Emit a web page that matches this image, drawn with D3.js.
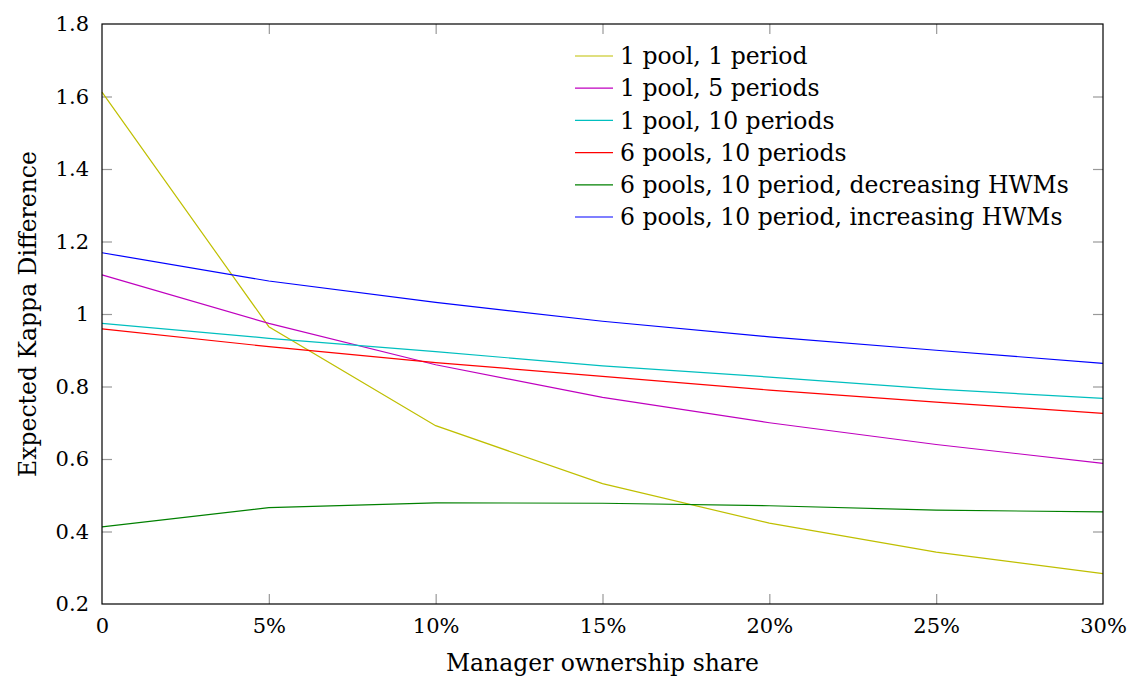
<!DOCTYPE html>
<html>
<head>
<meta charset="utf-8">
<script src="https://cdn.jsdelivr.net/npm/d3@7"></script>
<style>
  body { margin: 0; background: white; }
  svg text { font-family: "DejaVu Serif", "Liberation Serif", serif; }
</style>
</head>
<body>
<div id="vis"></div>
<script>
const WIDTH = 1129, HEIGHT = 679;
const margins = { top: 24, bottom: 75, left: 102, right: 26 };
const FONT_TICK = "21px", FONT = "23.5px";

// datos
const shares = [0, 5, 10, 15, 20, 25, 30];
const seriesNames = [
  "1 pool, 1 period",
  "1 pool, 5 periods",
  "1 pool, 10 periods",
  "6 pools, 10 periods",
  "6 pools, 10 period, decreasing HWMs",
  "6 pools, 10 period, increasing HWMs"
];
const seriesColors = ["#bfbf00", "#bf00bf", "#00bfbf", "#ff0000", "#008000", "#0000ff"];
const onePoolOnePeriod = [1.612, 0.965, 0.692, 0.532, 0.423, 0.343, 0.284];
const onePoolFivePeriods = [1.108, 0.974, 0.860, 0.770, 0.700, 0.640, 0.588];
const onePoolTenPeriods = [0.974, 0.933, 0.896, 0.857, 0.826, 0.793, 0.767];
const sixPoolsTenPeriods = [0.959, 0.910, 0.866, 0.828, 0.790, 0.757, 0.726];
const decreasingHWMs = [0.413, 0.466, 0.479, 0.478, 0.471, 0.459, 0.454];
const increasingHWMs = [1.169, 1.091, 1.032, 0.980, 0.937, 0.900, 0.864];
const yTicks = [0.2, 0.4, 0.6, 0.8, 1, 1.2, 1.4, 1.6, 1.8];

const allSeries = [onePoolOnePeriod, onePoolFivePeriods, onePoolTenPeriods,
  sixPoolsTenPeriods, decreasingHWMs, increasingHWMs];

const SVG = d3.select("#vis").append("svg")
  .attr("width", WIDTH).attr("height", HEIGHT);

const innerW = WIDTH - margins.left - margins.right;
const innerH = HEIGHT - margins.top - margins.bottom;

const x = d3.scaleLinear().domain([0, 30]).range([0, innerW]);
const y = d3.scaleLinear().domain([0.2, 1.8]).range([innerH, 0]);

const g = SVG.append("g").attr("transform", `translate(${margins.left} ${margins.top})`);

// ejes con ticks hacia adentro
const fmtX = d => d === 0 ? "0" : d + "%";
const fmtY = d => d3.format("")(+d.toFixed(1));

const ejeX = g.append("g").attr("transform", `translate(0 ${innerH})`)
  .call(d3.axisBottom(x).tickValues(shares).tickFormat(fmtX).tickSizeInner(-10).tickSizeOuter(0).tickPadding(22));
const ejeXtop = g.append("g")
  .call(d3.axisTop(x).tickValues(shares).tickFormat("").tickSizeInner(-10).tickSizeOuter(0));
const ejeY = g.append("g")
  .call(d3.axisLeft(y).tickValues(yTicks).tickFormat(fmtY).tickSizeInner(-10).tickSizeOuter(0).tickPadding(13));
const ejeYright = g.append("g").attr("transform", `translate(${innerW} 0)`)
  .call(d3.axisRight(y).tickValues(yTicks).tickFormat("").tickSizeInner(-10).tickSizeOuter(0));

[ejeX, ejeXtop, ejeY, ejeYright].forEach(e => {
  e.attr("font-family", null);
  e.select(".domain").remove();
  e.selectAll(".tick line").attr("stroke", "#999").attr("stroke-width", 1.2);
  e.selectAll(".tick text").attr("fill", "#000").style("font-size", FONT_TICK);
});
ejeX.selectAll(".tick text").attr("dy", "0.35em");
ejeX.selectAll(".tick line").filter((d, i) => i === 0 || i === shares.length - 1).remove();
ejeXtop.selectAll(".tick line").filter((d, i) => i === 0 || i === shares.length - 1).remove();
ejeY.selectAll(".tick line").filter((d, i) => i === 0 || i === yTicks.length - 1).remove();
ejeYright.selectAll(".tick line").filter((d, i) => i === 0 || i === yTicks.length - 1).remove();

// lineas
const linea = d3.line().x((d, i) => x(shares[i])).y(d => y(d));
g.selectAll("path.serie")
  .data(allSeries)
  .join("path")
  .attr("class", "serie")
  .attr("fill", "none")
  .attr("stroke", (d, i) => seriesColors[i])
  .attr("stroke-width", 1.2)
  .attr("d", linea);

// marco
g.append("rect")
  .attr("width", innerW).attr("height", innerH)
  .attr("fill", "none").attr("stroke", "#000").attr("stroke-width", 1.2);

// leyenda
const leyenda = g.append("g").attr("transform", `translate(${575 - margins.left} ${56 - margins.top})`);
seriesNames.forEach((name, i) => {
  const fila = leyenda.append("g").attr("transform", `translate(0 ${i * 32.2})`);
  fila.append("line").attr("x1", 0).attr("x2", 38)
    .attr("stroke", seriesColors[i]).attr("stroke-width", 1.2);
  fila.append("text").attr("x", 45).attr("dy", "0.35em")
    .style("font-size", FONT).text(name);
});

// titulos de ejes
SVG.append("text")
  .attr("x", margins.left + innerW / 2).attr("y", 663)
  .attr("text-anchor", "middle").attr("dy", "0.35em")
  .style("font-size", FONT).text("Manager ownership share");
SVG.append("text")
  .attr("transform", `translate(28 ${margins.top + innerH / 2}) rotate(-90)`)
  .attr("text-anchor", "middle").attr("dy", "0.35em")
  .style("font-size", FONT).text("Expected Kappa Difference");
</script>
</body>
</html>
